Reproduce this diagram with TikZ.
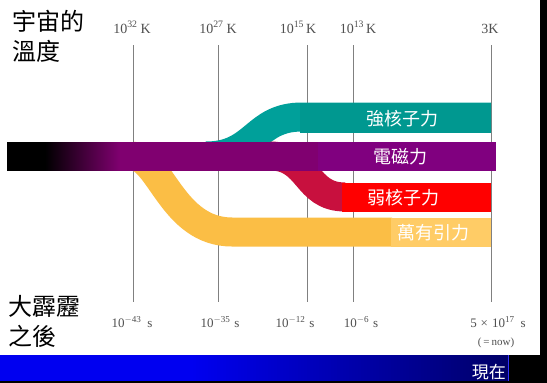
\documentclass[tikz,border=0pt]{standalone}
\usepackage{fontspec}
\setmainfont{Liberation Serif}
\newfontfamily\cjk{Noto Sans CJK TC}
\definecolor{emcol}{HTML}{800070}
\definecolor{emlab}{HTML}{80007F}
\definecolor{tealband}{HTML}{00A09A}
\definecolor{teallab}{HTML}{009890}
\definecolor{crim}{HTML}{C8103E}
\definecolor{gold}{HTML}{FBBE45}
\definecolor{goldlab}{HTML}{FFCC66}
\definecolor{axisgray}{HTML}{808080}
\definecolor{labgray}{HTML}{505050}
\definecolor{barblue}{HTML}{0000F0}
\definecolor{bardark}{HTML}{000068}
\tikzset{
  axisline/.style={draw=axisgray, line width=1pt},
  band/.style={line width=29pt},
  forcetext/.style={text=white, font=\cjk\fontsize{18}{20}\selectfont, inner sep=0pt},
  toplab/.style={text=labgray, font=\fontsize{14}{16}\selectfont, anchor=base, inner sep=0pt},
  botlab/.style={text=labgray, font=\fontsize{13}{15}\selectfont, anchor=base, inner sep=0pt},
  cornertext/.style={text=black, font=\cjk\fontsize{24}{28}\selectfont, anchor=base west, inner sep=0pt},
}
\begin{document}
\begin{tikzpicture}[x=1pt,y=-1pt]
\useasboundingbox (0,0) rectangle (547,383);
% background
\fill[black] (0,0) rectangle (547,383);
\fill[white] (0,0) rectangle (540,355);
\fill[barblue] (0,355) rectangle (191,381);
\foreach \i in {0,...,105}{
  \pgfmathsetmacro\p{100-100*\i/105}
  \fill[barblue!\p!bardark] (190+3*\i,355) rectangle (193.6+3*\i,381);
}
\draw[blue!80!white, line width=1.2pt] (508.6,355) -- (508.6,381);
% vertical time lines
\foreach \n/\x in {a/133,b/218,c/307,d/353,e/491}{
  \coordinate (\n top) at (\x,45);
  \coordinate (\n bot) at (\x,302);
  \draw[axisline] (\n top) -- (\n bot);
}
% strong force band
\coordinate (sstart) at (206,156);
\coordinate (send) at (302,117);
\draw[tealband, band] (sstart) .. controls (256,156) and (254,117) .. (send) -- (491,117);
% gravity band
\coordinate (gstart) at (132,156);
\coordinate (gend) at (232,232);
\draw[gold, band] (gstart) .. controls (160,156) and (172,232) .. (gend) -- (392,232);
% weak force band
\coordinate (wstart) at (270,156);
\coordinate (wend) at (345,197);
\draw[crim, band] (wstart) .. controls (310,156) and (305,197) .. (wend);
% unified band with gradient from black
\fill[black] (7,141.5) rectangle (45.5,170.5);
\foreach \i in {0,...,75}{
  \pgfmathsetmacro\p{100*\i/75}
  \fill[emcol!\p!black] (45+\i,141.5) rectangle (46.4+\i,170.5);
}
\fill[emcol] (120.5,141.5) rectangle (318.5,170.5);
% labelled boxes
\fill[teallab] (300,103) rectangle (491,133);
\node[forcetext] (strong) at (402,119) {強核子力};
\fill[emlab] (318,142) rectangle (496,171);
\node[forcetext] (em) at (400,157) {電磁力};
\fill[red] (342,183) rectangle (491,212);
\node[forcetext] (weak) at (403,197.5) {弱核子力};
\fill[goldlab] (391,218) rectangle (491,247);
\node[forcetext] (grav) at (433,233) {萬有引力};
% temperatures
\node[toplab] (t1) at (132,33) {10\textsuperscript{32}\hspace{3pt}K};
\node[toplab] (t2) at (218,33) {10\textsuperscript{27}\hspace{3pt}K};
\node[toplab] (t3) at (298,33) {10\textsuperscript{15}\hspace{2pt}K};
\node[toplab] (t4) at (358,33) {10\textsuperscript{13}\hspace{2pt}K};
\node[toplab] (t5) at (490,33) {3K};
% times
\node[botlab] (s1) at (132,327) {10\textsuperscript{$-$43}\hspace{6pt}s};
\node[botlab] (s2) at (220,327) {10\textsuperscript{$-$35}\hspace{4pt}s};
\node[botlab] (s3) at (295,327) {10\textsuperscript{$-$12}\hspace{4pt}s};
\node[botlab] (s4) at (361,327) {10\textsuperscript{$-$6}\hspace{4pt}s};
\node[botlab] (s5) at (498,327) {5\hspace{4pt}×\hspace{4pt}10\textsuperscript{17}\hspace{6pt}s};
\node[botlab, font=\fontsize{11}{13}\selectfont] (now) at (496,345) {(\hspace{2pt}=\hspace{2pt}now)};
% corner texts
\node[cornertext] (temp1) at (12,30) {宇宙的};
\node[cornertext] (temp2) at (12,60) {溫度};
\node[cornertext] (bb1) at (8,315) {大霹靂};
\node[cornertext] (bb2) at (8,345) {之後};
\node[text=white, font=\cjk\fontsize{17}{19}\selectfont, anchor=base east, inner sep=0pt] (nowlab) at (506,378) {現在};
\end{tikzpicture}
\end{document}
